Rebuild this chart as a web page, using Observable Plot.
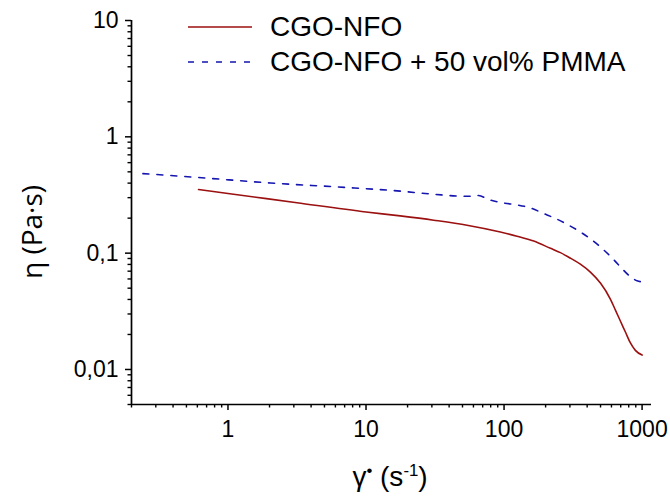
<!DOCTYPE html>
<html>
<head>
<meta charset="utf-8">
<script src="https://cdn.jsdelivr.net/npm/d3@7"></script>
<script src="https://cdn.jsdelivr.net/npm/@observablehq/plot@0.6"></script>
<style>
  body { margin: 0; background: #fff; }
  #wrap { position: relative; width: 670px; height: 497px; font-family: "Liberation Sans", Arial, sans-serif; color: #000; }
  .abs { position: absolute; white-space: nowrap; }
  sup { font-size: 60%; }
</style>
</head>
<body>
<div id="wrap"></div>
<script>
// ---- data ----
const seriesNames = ["CGO-NFO", "CGO-NFO + 50 vol% PMMA"];
const seriesColors = ["#9b1010", "#1515b0"];

// CGO-NFO : shear rate (1/s), viscosity (Pa·s)
const shearA = [0.612, 1, 3.16, 10, 17.7, 30.9, 53.9, 94, 124, 164, 217, 256, 302, 357, 422, 499, 589, 641, 696, 757, 823, 894, 1000];
const etaA   = [0.352, 0.326, 0.271, 0.226, 0.209, 0.192, 0.174, 0.152, 0.140, 0.127, 0.110, 0.101, 0.0906, 0.0804, 0.0687, 0.0553, 0.0403, 0.0324, 0.0261, 0.0210, 0.0169, 0.0146, 0.0133];

// CGO-NFO + 50 vol% PMMA
const shearB = [0.242, 0.612, 2.03, 6.17, 16.8, 30.9, 53.9, 65.4, 77.3, 99.3, 124, 155, 194, 235, 286, 348, 422, 499, 589, 697, 813, 920, 1000];
const etaB   = [0.483, 0.447, 0.401, 0.371, 0.343, 0.321, 0.308, 0.313, 0.289, 0.270, 0.260, 0.245, 0.219, 0.199, 0.177, 0.155, 0.133, 0.113, 0.0942, 0.0762, 0.0635, 0.0578, 0.0567];

// axes
const xDomain = [0.2, 1170];
const yDomain = [0.005, 10];
const xMajor = [1, 10, 100, 1000];
const xTickLabels = ["1", "10", "100", "1000"];
const yMajor = [0.01, 0.1, 1, 10];
const yTickLabels = ["0,01", "0,1", "1", "10"];
const minorMult = [2, 3, 4, 5, 6, 7, 8, 9];
const xMinorDecades = [0.1, 1, 10, 100, 1000];
const yMinorDecades = [0.001, 0.01, 0.1, 1];

// ---- build ----
const dataA = shearA.map((g, i) => ({g, eta: etaA[i]}));
const dataB = shearB.map((g, i) => ({g, eta: etaB[i]}));
const xMinor = xMinorDecades.flatMap(d => minorMult.map(m => m * d)).filter(v => v >= xDomain[0] && v <= xDomain[1]);
const yMinor = yMinorDecades.flatMap(d => minorMult.map(m => m * d)).filter(v => v >= yDomain[0] && v <= yDomain[1]);

const plot = Plot.plot({
  width: 670,
  height: 497,
  marginLeft: 131,
  marginTop: 20,
  marginRight: 19,
  marginBottom: 93,
  style: {fontFamily: '"Liberation Sans", Arial, sans-serif', color: "#000", background: "#fff", overflow: "visible"},
  x: {type: "log", domain: xDomain, nice: false},
  y: {type: "log", domain: yDomain, nice: false},
  marks: [
    Plot.axisX(xMinor, {tickSize: 3.5, strokeWidth: 1.4, tickFormat: () => "", label: null}),
    Plot.axisX(xMajor, {tickSize: 6, strokeWidth: 1.5, tickPadding: 10, fontSize: 23, tickFormat: d => xTickLabels[xMajor.indexOf(d)], label: null}),
    Plot.axisY(yMinor, {tickSize: 3.5, strokeWidth: 1.4, tickFormat: () => "", label: null}),
    Plot.axisY(yMajor, {tickSize: 6, strokeWidth: 1.5, tickPadding: 7, fontSize: 23, tickFormat: d => yTickLabels[yMajor.indexOf(d)], label: null}),
    Plot.ruleX([xDomain[0]], {stroke: "#000", strokeWidth: 1.7}),
    Plot.ruleY([yDomain[0]], {stroke: "#000", strokeWidth: 1.7}),
    Plot.line(dataB, {x: "g", y: "eta", stroke: seriesColors[1], strokeWidth: 1.6, strokeDasharray: "6,8", curve: "monotone-x"}),
    Plot.line(dataA, {x: "g", y: "eta", stroke: seriesColors[0], strokeWidth: 1.6, curve: "monotone-x"})
  ]
});

const wrap = document.getElementById("wrap");
wrap.appendChild(plot);

// legend (overlay)
function legendRow(top, i, dash) {
  const row = document.createElement("div");
  row.className = "abs";
  row.style.left = "188px";
  row.style.top = top + "px";
  row.style.display = "flex";
  row.style.alignItems = "center";
  row.innerHTML = `<svg width="64" height="4" style="display:block"><line x1="0" y1="2" x2="64" y2="2" stroke="${seriesColors[i]}" stroke-width="1.6" ${dash ? 'stroke-dasharray="6,8"' : ''}/></svg><span style="margin-left:18px;font-size:28px;line-height:32px">${seriesNames[i]}</span>`;
  wrap.appendChild(row);
}
legendRow(11, 0, false);
legendRow(46, 1, true);

// axis titles
const yl = document.createElement("div");
yl.className = "abs";
yl.style.fontSize = "28px";
yl.style.fontFamily = '"Open Sans", "Liberation Sans", sans-serif';
yl.innerHTML = "η (Pa·s)";
yl.style.left = "31px";
yl.style.top = "232px";
yl.style.transform = "translate(-50%, -50%) rotate(-90deg)";
wrap.appendChild(yl);

const xl = document.createElement("div");
xl.className = "abs";
xl.style.fontSize = "28px";
xl.innerHTML = "γ<sup>•</sup> (s<sup>-1</sup>)";
xl.style.left = "390px";
xl.style.top = "477px";
xl.style.transform = "translate(-50%, -50%)";
wrap.appendChild(xl);
</script>
</body>
</html>
